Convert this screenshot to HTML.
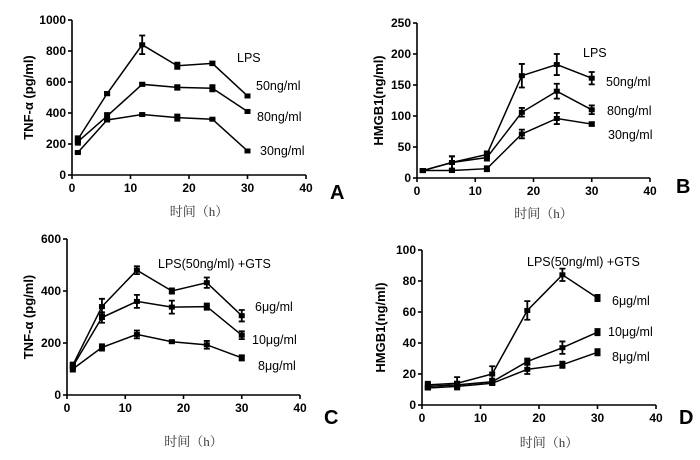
<!DOCTYPE html>
<html><head><meta charset="utf-8">
<style>
body{margin:0;background:#fff;}
svg{display:block;font-family:"Liberation Sans",Arial,sans-serif;}
.tick{font-size:12px;font-weight:bold;}
.yt{font-size:13px;font-weight:bold;}
.lab{font-size:12.5px;}
.pl{font-size:20px;font-weight:bold;}
.xl{font-family:"Liberation Serif","Noto Serif CJK SC",serif;font-size:13px;fill:#333;}
</style></head>
<body>
<svg id="fig" width="700" height="460" viewBox="0 0 700 460"></svg>
<script>
const timesH = [1, 6, 12, 18, 24, 30];
const xTicks = [0, 10, 20, 30, 40];
// Panel A
const aTicks = [0, 200, 400, 600, 800, 1000];
const a50 = [230, 525, 840, 705, 720, 510];
const a50e = [20, 10, 60, 20, 12, 8];
const a80 = [215, 380, 585, 565, 560, 410];
const a80e = [20, 20, 10, 15, 20, 10];
const a30 = [145, 355, 390, 370, 360, 155];
const a30e = [5, 8, 5, 20, 5, 5];
// Panel B
const bTicks = [0, 50, 100, 150, 200, 250];
const b50 = [12, 25, 38, 165, 183, 161];
const b50e = [2, 10, 5, 19, 17, 10];
const b80 = [12, 25, 33, 106, 140, 110];
const b80e = [2, 10, 5, 7, 12, 7];
const b30 = [12, 12, 15, 71, 96, 87];
const b30e = [2, 2, 4, 7, 9, 3];
// Panel C
const cTicks = [0, 200, 400, 600];
const c6 = [115, 340, 480, 400, 432, 305];
const c6e = [10, 30, 15, 10, 20, 22];
const c10 = [110, 298, 360, 338, 340, 230];
const c10e = [10, 20, 25, 25, 12, 15];
const c8 = [100, 183, 233, 205, 193, 143];
const c8e = [10, 12, 15, 3, 15, 10];
// Panel D
const dTicks = [0, 20, 40, 60, 80, 100];
const d6 = [13, 14, 20, 61, 84, 69];
const d6e = [2, 4, 5, 6, 4, 2];
const d10 = [12, 13, 15, 28, 37, 47];
const d10e = [2, 2, 2, 2, 4, 2];
const d8 = [11, 12, 14, 23, 26, 34];
const d8e = [1, 1, 1, 3, 2, 2];

const NS = "http://www.w3.org/2000/svg";
const svg = document.getElementById('fig');
function mk(tag, attrs, parent, text) {
  const e = document.createElementNS(NS, tag);
  for (const k in attrs) e.setAttribute(k, attrs[k]);
  if (text !== undefined) e.textContent = text;
  (parent || svg).appendChild(e);
  return e;
}

function panel(cfg) {
  const g = mk('g', {});
  
  
  const sx = v => cfg.x0 + (v - 0) / 40 * (cfg.x1 - cfg.x0);
  const ymax = cfg.yTicks[cfg.yTicks.length - 1];
  const sy = v => cfg.y0 - v / ymax * (cfg.y0 - cfg.y1);
  const axes = mk('g', {stroke: '#000', 'stroke-width': 1.6}, g);
  
  
  mk('line', {x1: cfg.x0, y1: cfg.y0, x2: cfg.x1, y2: cfg.y0}, axes);
  mk('line', {x1: cfg.x0, y1: cfg.y0, x2: cfg.x0, y2: cfg.y1}, axes);
  xTicks.forEach(t => {
    mk('line', {x1: sx(t), y1: cfg.y0, x2: sx(t), y2: cfg.y0 + 4}, axes);
    const tx = mk('text', {x: sx(t), y: cfg.y0 + 17, 'text-anchor': 'middle', class: 'tick'}, g, t);
    
    
  });
  cfg.yTicks.forEach(t => {
    mk('line', {x1: cfg.x0 - 4, y1: sy(t), x2: cfg.x0, y2: sy(t)}, axes);
    const ty = mk('text', {x: cfg.x0 - 6, y: sy(t) + 4, 'text-anchor': 'end', class: 'tick'}, g, t);
    
    
  });
  const yt = mk('text', {x: 0, y: 0, 'text-anchor': 'middle', class: 'yt',
    transform: `translate(${cfg.ytx},${(cfg.y0 + cfg.y1) / 2}) rotate(-90)`}, g, cfg.ytitle);
  
  
  const xl = mk('text', {x: (cfg.x0 + cfg.x1) / 2 + 10, y: cfg.xly, 'text-anchor': 'middle', class: 'xl'}, g, '时间（h）');
  
  
  const pl = mk('text', {x: cfg.plx, y: cfg.ply, class: 'pl'}, g, cfg.id);
  
  
  cfg.series.forEach(s => {
    const sg = mk('g', {stroke: '#000', fill: '#000'}, g);
    
    
    const pts = timesH.map((t, i) => sx(t) + ',' + sy(s.v[i])).join(' ');
    mk('polyline', {points: pts, fill: 'none', 'stroke-width': 1.5}, sg);
    timesH.forEach((t, i) => {
      const x = sx(t), y = sy(s.v[i]), yh = sy(s.v[i] + s.e[i]), yl = sy(s.v[i] - s.e[i]);
      const eb = mk('path', {d: `M${x},${yh}V${yl}M${x - 3},${yh}H${x + 3}M${x - 3},${yl}H${x + 3}`, fill: 'none', 'stroke-width': 1.8}, sg);
      
      
      const m = mk('rect', {x: x - 3, y: y - 2.5, width: 6, height: 5, stroke: 'none'}, sg);
      
      
    });
  });
  cfg.labels.forEach(l => {
    const t = mk('text', {x: l[1], y: l[2], class: 'lab', 'font-size': l[3] || 12.5}, g, l[0]);
    
    
  });
}

panel({id: 'A', x0: 72, x1: 306, y0: 175, y1: 20, yTicks: aTicks, ytitle: 'TNF-α (pg/ml)', ytx: 33, xly: 216, plx: 330, ply: 199,
  series: [{name: '50ng', v: a50, e: a50e}, {name: '80ng', v: a80, e: a80e}, {name: '30ng', v: a30, e: a30e}],
  labels: [['LPS', 237, 62, 14], ['50ng/ml', 256, 90], ['80ng/ml', 257, 121], ['30ng/ml', 260, 155]]});
panel({id: 'B', x0: 417, x1: 650, y0: 178, y1: 23, yTicks: bTicks, ytitle: 'HMGB1(ng/ml)', ytx: 383, xly: 218, plx: 676, ply: 193,
  series: [{name: '50ng', v: b50, e: b50e}, {name: '80ng', v: b80, e: b80e}, {name: '30ng', v: b30, e: b30e}],
  labels: [['LPS', 583, 57, 13], ['50ng/ml', 606, 86], ['80ng/ml', 607, 115], ['30ng/ml', 608, 139]]});
panel({id: 'C', x0: 67, x1: 300, y0: 395, y1: 239, yTicks: cTicks, ytitle: 'TNF-α (pg/ml)', ytx: 33, xly: 446, plx: 324, ply: 424,
  series: [{name: '6ug', v: c6, e: c6e}, {name: '10ug', v: c10, e: c10e}, {name: '8ug', v: c8, e: c8e}],
  labels: [['LPS(50ng/ml) +GTS', 158, 268], ['6μg/ml', 255, 311], ['10μg/ml', 252, 344], ['8μg/ml', 258, 370]]});
panel({id: 'D', x0: 422, x1: 656, y0: 405, y1: 250, yTicks: dTicks, ytitle: 'HMGB1(ng/ml)', ytx: 385, xly: 447, plx: 679, ply: 424,
  series: [{name: '6ug', v: d6, e: d6e}, {name: '10ug', v: d10, e: d10e}, {name: '8ug', v: d8, e: d8e}],
  labels: [['LPS(50ng/ml) +GTS', 527, 266], ['6μg/ml', 612, 305], ['10μg/ml', 608, 336], ['8μg/ml', 612, 361]]});
</script>
</body></html>
